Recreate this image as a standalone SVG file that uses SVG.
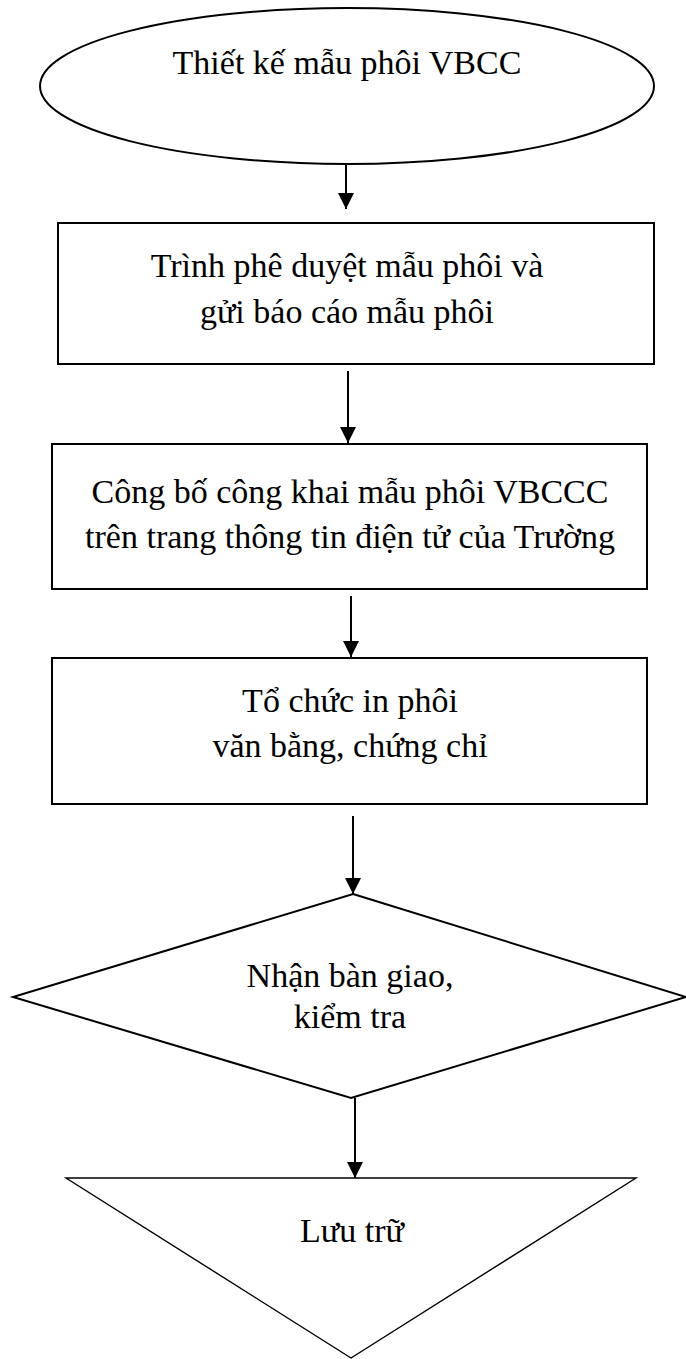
<svg xmlns="http://www.w3.org/2000/svg" width="686" height="1359" viewBox="0 0 686 1359">
<style>
.s{fill:#fff;stroke:#000;stroke-width:2}
.thin{stroke-width:1.4}
.t{font-family:"Liberation Serif","Times New Roman",serif;font-size:34px;fill:#000;text-anchor:middle}
.c{stroke:#000;stroke-width:2;fill:none;marker-end:url(#ah)}
</style>
<defs>
<marker id="ah" markerUnits="userSpaceOnUse" markerWidth="16" markerHeight="16" refX="16" refY="8" orient="auto" viewBox="0 0 16 16">
<path d="M0,0 L16,8 L0,16 Z" fill="#000"/>
</marker>
</defs>
<rect width="686" height="1359" fill="#fff"/>
<g id="connectors">
<line class="c" x1="346" y1="164" x2="346" y2="209"/>
<line class="c" x1="348" y1="371" x2="348" y2="443"/>
<line class="c" x1="351" y1="596" x2="351" y2="657"/>
<line class="c" x1="353" y1="816" x2="353" y2="894"/>
<line class="c" x1="355" y1="1098" x2="355" y2="1178"/>
</g>
<g id="n1">
<ellipse class="s" cx="347" cy="86" rx="307" ry="78"/>
<text class="t" x="347" y="74">Thiết kế mẫu phôi VBCC</text>
</g>
<g id="n2">
<rect class="s" x="58" y="223" width="596" height="141"/>
<text class="t" x="347" y="277">Trình phê duyệt mẫu phôi và</text>
<text class="t" x="347" y="323">gửi báo cáo mẫu phôi</text>
</g>
<g id="n3">
<rect class="s" x="52" y="444" width="595" height="145"/>
<text class="t" x="350" y="503">Công bố công khai mẫu phôi VBCCC</text>
<text class="t" x="350" y="548">trên trang thông tin điện tử của Trường</text>
</g>
<g id="n4">
<rect class="s" x="52" y="658" width="595" height="146"/>
<text class="t" x="350" y="712">Tổ chức in phôi</text>
<text class="t" x="350" y="757">văn bằng, chứng chỉ</text>
</g>
<g id="n5">
<polygon class="s" points="353,894 686,997 351,1098 13,997"/>
<text class="t" x="350" y="987">Nhận bàn giao,</text>
<text class="t" x="350" y="1028">kiểm tra</text>
</g>
<g id="n6">
<polygon class="s thin" points="66,1178 636,1178 351,1358"/>
<text class="t" x="352" y="1242">Lưu trữ</text>
</g>
</svg>
